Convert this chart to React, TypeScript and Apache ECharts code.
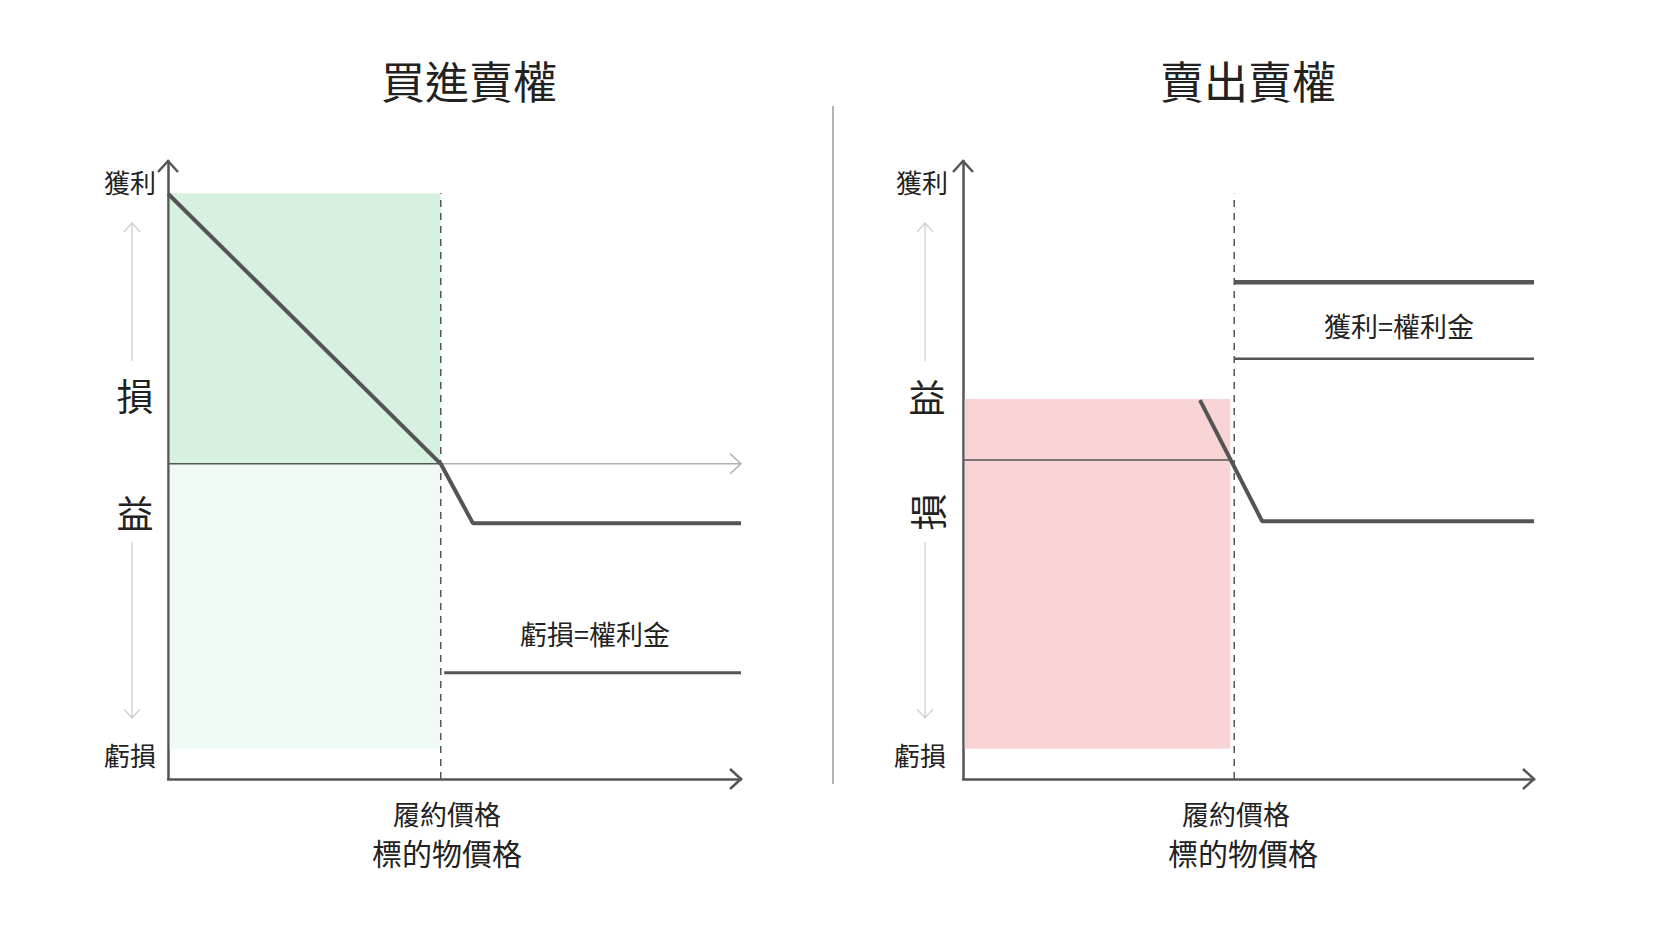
import React, { useEffect, useRef } from "react";
import * as echarts from "echarts";

// ---------- data (axis units: x 0..100 price, y profit/loss) ----------
const buyStrike = 47.6;
const buyPayoffX = [0, 47.6, 53.2, 100];
const buyPayoffY = [43.7, 0, -9.6, -9.6];
const buyPremiumX = [48.2, 100];
const buyPremiumY = [-33.8, -33.8];
const buyProfitZone = [0.3, 47.6, 0, 43.8]; // x0, x1, y0, y1
const buyLossZone = [0.3, 47.6, -46.1, 0];
const buyYRange = [-51, 49];

const sellStrike = 47.5;
const sellPayoffX = [41.5, 52.4, 100];
const sellPayoffY = [9.7, -9.9, -9.9];
const sellPremiumUpperX = [47.5, 100];
const sellPremiumUpperY = [28.8, 28.8];
const sellPremiumLowerX = [47.5, 100];
const sellPremiumLowerY = [16.4, 16.4];
const sellLossZone = [0.3, 46.8, -46.7, 9.9];
const sellZeroEnd = 46.7;
const sellStrikeTop = 43.1;
const buyStrikeTop = 43.8;
const sellYRange = [-51.6, 48.4];

const titles = ["買進賣權", "賣出賣權"];
const axisTop = "獲利";
const axisBottom = "虧損";
const xLabel1 = "履約價格";
const xLabel2 = "標的物價格";

const FONT = '"Noto Sans CJK TC", "Noto Sans CJK SC", sans-serif';
const DARK = "#555555";

const zip = (xs: number[], ys: number[]) => xs.map((x, i) => [x, ys[i]]);

function text(t: string, x: number, y: number, size: number, extra: any = {}) {
  return {
    type: "text",
    x,
    y,
    silent: true,
    ...extra,
    style: {
      text: t,
      fill: "#222",
      font: `${size}px ${FONT}`,
      fontSize: size,
      fontFamily: FONT,
      align: "center",
      verticalAlign: "middle",
      textAlign: "center",
      textVerticalAlign: "middle",
    },
  };
}

function chevron(tip: number[], dir: "up" | "down" | "right", color: string, w: number, s = 10) {
  let pts: number[][];
  if (dir === "up") pts = [[tip[0] - s, tip[1] + s * 1.1], tip, [tip[0] + s, tip[1] + s * 1.1]];
  else if (dir === "down") pts = [[tip[0] - s, tip[1] - s * 1.1], tip, [tip[0] + s, tip[1] - s * 1.1]];
  else pts = [[tip[0] - s * 1.1, tip[1] - s], tip, [tip[0] - s * 1.1, tip[1] + s]];
  return {
    type: "polyline",
    silent: true,
    shape: { points: pts },
    style: { stroke: color, lineWidth: w, fill: "none" },
  };
}

function line(name: string, data: number[][], gi: number, color: string, width: number, dashed = false) {
  return {
    name,
    type: "line",
    xAxisIndex: gi,
    yAxisIndex: gi,
    data,
    symbol: "none",
    silent: true,
    clip: false,
    lineStyle: { color, width, type: dashed ? [7, 6] : "solid", cap: "butt" },
    z: 5,
  };
}

function zoneArea(z: number[], color: string) {
  return [{ xAxis: z[0], yAxis: z[2], itemStyle: { color } }, { xAxis: z[1], yAxis: z[3] }];
}

export default function App() {
  const ref = useRef<HTMLDivElement>(null);
  useEffect(() => {
    if (!ref.current) return;
    const chart = echarts.init(ref.current, null, { renderer: "svg" });
    const axisCommon = {
      type: "value",
      axisTick: { show: false },
      axisLabel: { show: false },
      splitLine: { show: false },
      axisLine: { show: true, onZero: false, lineStyle: { color: DARK, width: 2.5 } },
    };
    const option: any = {
      animation: false,
      backgroundColor: "#ffffff",
      grid: [
        { left: 168, top: 161, width: 573, height: 618 },
        { left: 963, top: 161, width: 571, height: 618 },
      ],
      xAxis: [
        { ...axisCommon, gridIndex: 0, min: 0, max: 100 },
        { ...axisCommon, gridIndex: 1, min: 0, max: 100 },
      ],
      yAxis: [
        { ...axisCommon, gridIndex: 0, min: buyYRange[0], max: buyYRange[1] },
        { ...axisCommon, gridIndex: 1, min: sellYRange[0], max: sellYRange[1] },
      ],
      series: [
        {
          ...line("buyZones", [], 0, DARK, 0),
          z: 1,
          markArea: {
            silent: true,
            data: [zoneArea(buyProfitZone, "#d6f1e0"), zoneArea(buyLossZone, "#f0faf5")],
          },
        },
        line("buyZeroDark", [[0, 0], [buyStrike, 0]], 0, DARK, 1.5),
        line("buyZeroLight", [[buyStrike, 0], [100, 0]], 0, "#b0b0b0", 1.5),
        line("buyStrike", [[buyStrike, buyYRange[0]], [buyStrike, buyStrikeTop]], 0, DARK, 1.5, true),
        line("buyPremium", zip(buyPremiumX, buyPremiumY), 0, DARK, 3),
        line("buyPayoff", zip(buyPayoffX, buyPayoffY), 0, DARK, 4),
        {
          ...line("sellZones", [], 1, DARK, 0),
          z: 1,
          markArea: { silent: true, data: [zoneArea(sellLossZone, "#f9d4d6")] },
        },
        line("sellZero", [[0, 0], [sellZeroEnd, 0]], 1, DARK, 1.5),
        line("sellStrike", [[sellStrike, sellYRange[0]], [sellStrike, sellStrikeTop]], 1, DARK, 1.5, true),
        line("sellUpper", zip(sellPremiumUpperX, sellPremiumUpperY), 1, DARK, 4.5),
        line("sellLower", zip(sellPremiumLowerX, sellPremiumLowerY), 1, DARK, 2.5),
        line("sellPayoff", zip(sellPayoffX, sellPayoffY), 1, DARK, 4),
      ],
    };
    chart.setOption(option);

    const p = (gi: number, v: number[]) => chart.convertToPixel({ gridIndex: gi } as any, v) as number[];
    const lTopY = p(0, [0, buyYRange[1]]);
    const lRightX = p(0, [100, buyYRange[0]]);
    const lZeroEnd = p(0, [100, 0]);
    const rTopY = p(1, [0, sellYRange[1]]);
    const rRightX = p(1, [100, sellYRange[0]]);

    const sideArrows = (x: number) => [
      { type: "line", silent: true, shape: { x1: x, y1: 361, x2: x, y2: 223 }, style: { stroke: "#cccccc", lineWidth: 1.2 } },
      chevron([x, 223], "up", "#cccccc", 1.2, 8),
      { type: "line", silent: true, shape: { x1: x, y1: 542, x2: x, y2: 718 }, style: { stroke: "#cccccc", lineWidth: 1.2 } },
      chevron([x, 718], "down", "#cccccc", 1.2, 8),
    ];

    chart.setOption({
      graphic: [
        text(titles[0], 469, 80, 44),
        text(titles[1], 1248, 80, 44),
        {
          type: "line",
          silent: true,
          shape: { x1: 833, y1: 106, x2: 833, y2: 784 },
          style: { stroke: "#9a9a9a", lineWidth: 1.5 },
        },
        chevron(lTopY, "up", DARK, 2.5),
        chevron(lRightX, "right", DARK, 2.5),
        chevron(lZeroEnd, "right", "#b0b0b0", 1.5),
        chevron(rTopY, "up", DARK, 2.5),
        chevron(rRightX, "right", DARK, 2.5),
        ...sideArrows(132),
        ...sideArrows(925),
        text(axisTop, 130, 181, 26),
        text(axisBottom, 130, 754, 26),
        text("損", 135, 395, 37),
        text("益", 135, 512, 37),
        text(axisTop, 922, 181, 26),
        text(axisBottom, 920, 754, 26),
        text("益", 927, 396, 37),
        text("損", 927, 512, 37, { rotation: Math.PI / 2 }),
        text("獲利區", 314, 288, 26),
        text("虧損=權利金", 595, 633, 27),
        text("獲利=權利金", 1399, 325, 27),
        text("虧損區", 1092, 581, 26),
        text(xLabel1, 447, 813, 27),
        text(xLabel2, 447, 852, 30),
        text(xLabel1, 1236, 813, 27),
        text(xLabel2, 1243, 852, 30),
      ],
    });
    return () => chart.dispose();
  }, []);
  return (
    <div
      ref={ref}
      style={{ position: "absolute", left: 0, top: 0, width: 1666, height: 937, background: "#fff" }}
    />
  );
}
